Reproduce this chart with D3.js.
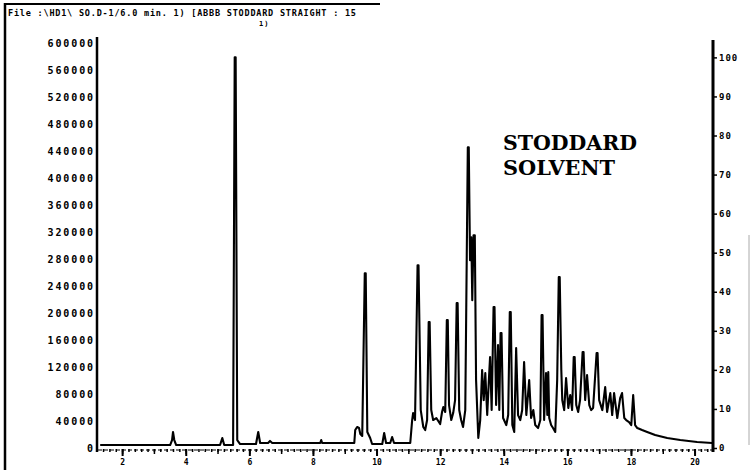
<!DOCTYPE html>
<html>
<head>
<meta charset="utf-8">
<script src="https://cdn.jsdelivr.net/npm/d3@7"></script>
<style>
body { margin: 0; background: #fff; }
svg text { font-family: "DejaVu Sans Mono", monospace; font-weight: bold; fill: #000; }
</style>
</head>
<body>
<svg id="chart" width="754" height="470"></svg>
<script>
// retention time (min) / abundance pairs
var retTimes = [1.31, 3.51, 3.57, 3.60, 3.64, 3.70, 5.08, 5.15, 5.21, 5.49,
	5.54, 5.57, 5.62, 5.71, 6.21, 6.28, 6.34, 6.59, 6.65, 6.72,
	8.23, 8.26, 8.29, 9.30, 9.33, 9.39, 9.45, 9.49, 9.55, 9.63,
	9.66, 9.71, 9.80, 9.86, 10.18, 10.24, 10.30, 10.43, 10.49, 10.55,
	11.06, 11.12, 11.15, 11.21, 11.29, 11.32, 11.39, 11.47, 11.53, 11.59,
	11.64, 11.67, 11.72, 11.78, 11.88, 12.00, 12.06, 12.10, 12.16, 12.21,
	12.24, 12.28, 12.35, 12.41, 12.47, 12.52, 12.55, 12.60, 12.66, 12.72,
	12.79, 12.87, 12.90, 12.94, 12.98, 13.01, 13.05, 13.09, 13.13, 13.20,
	13.26, 13.32, 13.37, 13.42, 13.48, 13.54, 13.57, 13.62, 13.68, 13.71,
	13.76, 13.82, 13.86, 13.90, 13.93, 13.98, 14.08, 14.14, 14.19, 14.22,
	14.27, 14.33, 14.39, 14.45, 14.52, 14.58, 14.64, 14.71, 14.80, 14.86,
	14.93, 14.99, 15.08, 15.15, 15.19, 15.22, 15.27, 15.33, 15.37, 15.40,
	15.43, 15.49, 15.55, 15.62, 15.68, 15.73, 15.76, 15.81, 15.84, 15.90,
	15.96, 16.03, 16.09, 16.15, 16.20, 16.23, 16.28, 16.34, 16.40, 16.48,
	16.51, 16.56, 16.62, 16.69, 16.75, 16.81, 16.92, 16.95, 17.00, 17.10,
	17.19, 17.25, 17.35, 17.41, 17.47, 17.57, 17.66, 17.72, 17.79, 17.85,
	17.94, 18.01, 18.07, 18.13, 18.20, 18.35, 18.51, 18.76, 19.14, 19.55,
	20.08, 20.55];

var abundance = [4400, 4400, 11800, 23700, 11800, 4400, 4400, 14800, 4400, 4400,
	578700, 578700, 11800, 5900, 5900, 23700, 7400, 7400, 10400, 7400,
	7400, 11800, 7400, 7400, 26600, 31100, 29600, 20700, 17800, 259000,
	259000, 23700, 14800, 5900, 5900, 22200, 7400, 7400, 16300, 7400,
	7400, 41400, 51800, 41400, 270800, 270800, 56200, 31100, 26600, 41400,
	186500, 186500, 56200, 41400, 44400, 35500, 53300, 60700, 53300, 189400,
	189400, 63600, 41400, 51800, 71000, 214600, 214600, 56200, 41400, 31100,
	56200, 445500, 445500, 278200, 312300, 219000, 315200, 315200, 100600, 14800,
	41400, 115400, 71000, 111000, 48800, 108000, 134700, 56200, 208700, 208700,
	63600, 152400, 56200, 170200, 170200, 44400, 34000, 48800, 201300, 201300,
	34000, 23700, 148000, 48800, 41400, 56200, 127300, 48800, 100600, 44400,
	56200, 34000, 29600, 41400, 196800, 196800, 41400, 111000, 48800, 112500,
	44400, 34000, 29600, 23700, 100600, 253100, 253100, 115400, 71000, 56200,
	103600, 59200, 78400, 56200, 134700, 134700, 63600, 53300, 71000, 142100,
	142100, 71000, 108000, 63600, 56200, 59200, 140600, 140600, 71000, 56200,
	90300, 53300, 81400, 48800, 81400, 44400, 74000, 81400, 44400, 41400,
	38500, 34000, 78400, 34000, 29600, 26600, 23700, 19200, 14800, 11800,
	8900, 7400];

var abundanceTicks = d3.range(0, 600001, 40000);
var percentTicks = d3.range(0, 101, 10);
var timeLabels = [2, 4, 6, 8, 10, 12, 14, 16, 18, 20];
var titleText = "File :\\HD1\\  SO.D-1/6.0 min. 1) [ABBB STODDARD STRAIGHT : 15";
var sampleName = ["STODDARD", "SOLVENT"];

var svg = d3.select("#chart");

var x = d3.scaleLinear().domain([1.21, 20.58]).range([97, 713]);
var y = d3.scaleLinear().domain([0, 600000]).range([448, 43]);
// right axis: percent of the largest peak
var yPct = d3.scaleLinear().domain([0, 100]).range([y(0), y(d3.max(abundance))]);

function drawFrame(svg){
	svg.append("line")
		.attr("x1", 5).attr("x2", 5)
		.attr("y1", 3).attr("y2", 470)
		.style("stroke", "#000").style("stroke-width", 2.5);
	svg.append("line")
		.attr("x1", 5).attr("x2", 380)
		.attr("y1", 4).attr("y2", 4)
		.style("stroke", "#000").style("stroke-width", 2);
	svg.append("line")
		.attr("x1", 749).attr("x2", 749)
		.attr("y1", 235).attr("y2", 445)
		.style("stroke", "#aaa").style("stroke-width", 1);

	svg.append("text")
		.attr("x", 8).attr("y", 16)
		.attr("textLength", 348)
		.attr("lengthAdjust", "spacing")
		.style("font-size", "8.5px")
		.text(titleText);
	svg.append("text")
		.attr("x", 259).attr("y", 26)
		.style("font-size", "7px")
		.style("letter-spacing", "1px")
		.text("1)");
}

function drawAxes(svg){
	// left abundance axis
	var left = svg.append("g")
		.attr("transform", "translate(97,0)")
		.call(d3.axisLeft(y)
			.tickValues(abundanceTicks)
			.tickSize(0)
			.tickPadding(2)
			.tickFormat(d3.format("d")));
	left.select(".domain").remove();
	left.selectAll("text")
		.style("font-size", "10px")
		.style("letter-spacing", "1.9px")
		.style("font-family", "\"DejaVu Sans Mono\", monospace");
	svg.append("line")
		.attr("x1", 97).attr("x2", 97)
		.attr("y1", 37).attr("y2", 452)
		.style("stroke", "#000").style("stroke-width", 2.5);

	// right percent axis
	var right = svg.append("g")
		.attr("transform", "translate(713,0)")
		.call(d3.axisRight(yPct)
			.tickValues(percentTicks)
			.tickSize(4)
			.tickPadding(2));
	right.select(".domain").remove();
	right.selectAll("line").style("stroke-width", 1.5);
	right.selectAll("text")
		.style("font-size", "9px")
		.style("letter-spacing", "1px")
		.style("font-family", "\"DejaVu Sans Mono\", monospace");
	svg.append("line")
		.attr("x1", 713).attr("x2", 713)
		.attr("y1", 40).attr("y2", 452)
		.style("stroke", "#000").style("stroke-width", 3);

	// bottom time axis, dotted minor ticks
	var minor = svg.append("g")
		.attr("transform", "translate(0,449)")
		.call(d3.axisBottom(x)
			.tickValues(d3.range(1.4, 20.5, 0.2))
			.tickSize(3)
			.tickFormat(""));
	minor.select(".domain").remove();
	minor.selectAll("line").style("stroke-width", 1.5);

	var whole = svg.append("g")
		.attr("transform", "translate(0,449)")
		.call(d3.axisBottom(x)
			.tickValues(d3.range(2, 21, 1))
			.tickSize(5)
			.tickFormat(""));
	whole.select(".domain").remove();
	whole.selectAll("line").style("stroke-width", 1.5);

	var bottom = svg.append("g")
		.attr("transform", "translate(0,449)")
		.call(d3.axisBottom(x)
			.tickValues(timeLabels)
			.tickSize(7)
			.tickPadding(3));
	bottom.select(".domain").remove();
	bottom.selectAll("line").style("stroke-width", 2);
	bottom.selectAll("text")
		.style("font-size", "8px")
		.style("font-family", "\"DejaVu Sans Mono\", monospace");

	svg.append("line")
		.attr("x1", 98).attr("x2", 712)
		.attr("y1", 450).attr("y2", 450)
		.style("stroke", "#000").style("stroke-width", 1.2)
		.style("stroke-dasharray", "4,2");
}

function drawTrace(svg){
	var points = retTimes.map(function(t, i){ return [t, abundance[i]]; });
	var line = d3.line()
		.x(function(d){ return x(d[0]); })
		.y(function(d){ return y(d[1]); });

	svg.append("path")
		.datum(points)
		.attr("d", line)
		.style("fill", "none")
		.style("stroke", "#000")
		.style("stroke-width", 2.1)
		.style("stroke-linejoin", "round");
}

function drawLabel(svg){
	var widths = [134, 112];
	svg.selectAll(".sample-name")
		.data(sampleName)
		.enter()
		.append("text")
		.classed("sample-name", true)
		.attr("x", 503)
		.attr("y", function(d, i){ return 150 + i*25; })
		.attr("textLength", function(d, i){ return widths[i]; })
		.attr("lengthAdjust", "spacingAndGlyphs")
		.style("font-family", "\"DejaVu Serif\", serif")
		.style("font-size", "20px")
		.text(function(d){ return d; });
}

drawFrame(svg);
drawAxes(svg);
drawTrace(svg);
drawLabel(svg);
</script>
</body>
</html>
